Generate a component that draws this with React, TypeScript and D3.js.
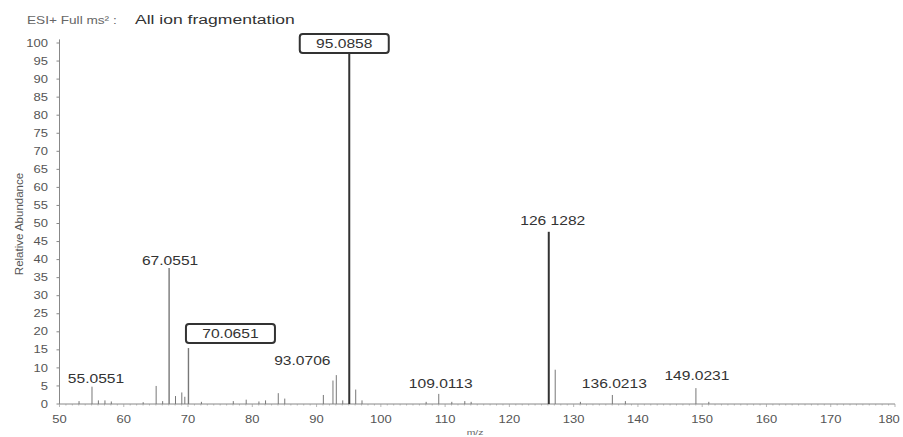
import React from "react";
import * as d3 from "d3";

const peakMz = [53.04, 55.0551, 56.05, 57.07, 58.06, 63.02, 65.0387, 66.05, 67.0551, 68.05, 69.03, 69.5, 70.0651, 72.08, 77.04, 79.05, 81.03, 82.06, 84.04, 85.05, 91.0542, 92.55, 93.0706, 94.07, 95.0858, 96.09, 97.07, 107.05, 109.0113, 111.04, 113.06, 114.05, 126.1282, 127.13, 131.05, 136.0213, 138.05, 149.0231, 151.03];
const peakIntensity = [0.8, 4.8, 1.0, 1.0, 0.7, 0.5, 5.0, 0.8, 37.7, 2.2, 3.2, 2.0, 15.5, 0.6, 0.8, 1.2, 0.7, 1.0, 3.0, 1.5, 2.5, 6.5, 8.0, 1.0, 100, 4.0, 1.0, 0.6, 2.8, 0.6, 0.8, 0.6, 47.7, 9.5, 0.6, 2.5, 0.8, 4.4, 0.6];

const labelMz = [55.0551, 67.0551, 70.0651, 93.0706, 95.0858, 109.0113, 126.1282, 136.0213, 149.0231];
const labelText = ["55.0551", "67.0551", "70.0651", "93.0706", "95.0858", "109.0113", "126 1282", "136.0213", "149.0231"];
const labelBoxed = [false, false, true, false, true, false, false, false, false];

const xTicks = [50, 60, 70, 80, 90, 100, 110, 120, 130, 140, 150, 160, 170, 180];
const yTicks = [0, 5, 10, 15, 20, 25, 30, 35, 40, 45, 50, 55, 60, 65, 70, 75, 80, 85, 90, 95, 100];

const SX = 1.3;

export default function App() {
  const W = 903, H = 437;
  const x = d3.scaleLinear().domain([50, 180]).range([59.5, 895]);
  const y = d3.scaleLinear().domain([0, 100]).range([404, 43]);
  const intensityOf = (mz: number) => {
    const i = peakMz.indexOf(mz);
    return i >= 0 ? peakIntensity[i] : 0;
  };
  const minor = d3.range(50, 181, 1);
  const font = "Liberation Sans, Arial, sans-serif";

  const labelPos: Record<string, [number, number]> = {
    "55.0551": [4, -4],
    "67.0551": [1, -3],
    "70.0651": [42, 0],
    "93.0706": [-34, -10],
    "95.0858": [-5, 0],
    "109.0113": [2, -6],
    "126 1282": [4, -7],
    "136.0213": [2, -7],
    "149.0231": [1, -8],
  };

  const T = (px: number, py: number) => `translate(${px},${py}) scale(${SX},1)`;

  return (
    <svg width={W} height={H} style={{ position: "absolute", left: 0, top: 0, background: "#fff" }} xmlns="http://www.w3.org/2000/svg">
      <rect x={0} y={0} width={W} height={H} fill="#fff" />
      <text transform={T(27, 24)} fontFamily={font} fontSize={10.5} fill="#666">ESI+ Full ms² :</text>
      <text transform={T(135, 24)} fontFamily={font} fontSize={13.5} fill="#333">All ion fragmentation</text>

      {/* y axis */}
      <line x1={x(50)} x2={x(50)} y1={y(101)} y2={y(0)} stroke="#888" strokeWidth={1} />
      {yTicks.map((t) => (
        <g key={"y" + t}>
          <line x1={x(50) - 3} x2={x(50)} y1={y(t)} y2={y(t)} stroke="#888" />
          <text transform={T(48, y(t) + 3.6)} textAnchor="end" fontFamily={font} fontSize={10} fill="#555">{t}</text>
        </g>
      ))}
      <text transform={`translate(23,224) rotate(-90)`} textAnchor="middle" fontFamily={font} fontSize={11.5} fill="#555">Relative Abundance</text>

      {/* x axis */}
      <line x1={x(50)} x2={x(180)} y1={y(0)} y2={y(0)} stroke="#888" strokeWidth={1} />
      {minor.map((t) => (
        <line key={"m" + t} x1={x(t)} x2={x(t)} y1={y(0)} y2={y(0) + (t % 10 === 0 ? 3 : 1.5)} stroke="#999" strokeWidth={0.7} />
      ))}
      {xTicks.map((t) => (
        <text key={"x" + t} transform={T(Math.min(x(t), W - 14), 423)} textAnchor="middle" fontFamily={font} fontSize={10} fill="#555">{t}</text>
      ))}
      <text transform={T(475, 435)} textAnchor="middle" fontFamily={font} fontSize={8} fill="#666">m/z</text>

      {/* peaks */}
      {peakMz.map((mz, i) => (
        <line key={"p" + i} x1={x(mz)} x2={x(mz)} y1={y(0)} y2={y(peakIntensity[i])}
          stroke={peakIntensity[i] > 40 ? "#333" : "#777"} strokeWidth={peakIntensity[i] > 40 ? 2 : peakIntensity[i] > 10 ? 1.4 : 1} />
      ))}

      {/* labels */}
      {labelMz.map((mz, i) => {
        const txt = labelText[i];
        const [dx, dy] = labelPos[txt];
        const px = x(mz);
        const py = y(intensityOf(mz));
        const lx = px + dx;
        const ly = py + dy;
        if (labelBoxed[i]) {
          const bw = 89;
          const bh = 19;
          const boxY = txt === "95.0858" ? 34 : 324;
          return (
            <g key={"l" + i}>
              <rect x={lx - bw / 2} y={boxY} width={bw} height={bh} rx={3} fill="#fff" stroke="#333" strokeWidth={2} />
              <text transform={T(lx, boxY + 14)} textAnchor="middle" fontFamily={font} fontSize={12} fill="#333">{txt}</text>
            </g>
          );
        }
        return (
          <text key={"l" + i} transform={T(lx, ly)} textAnchor="middle" fontFamily={font} fontSize={12} fill="#333">{txt}</text>
        );
      })}
    </svg>
  );
}
